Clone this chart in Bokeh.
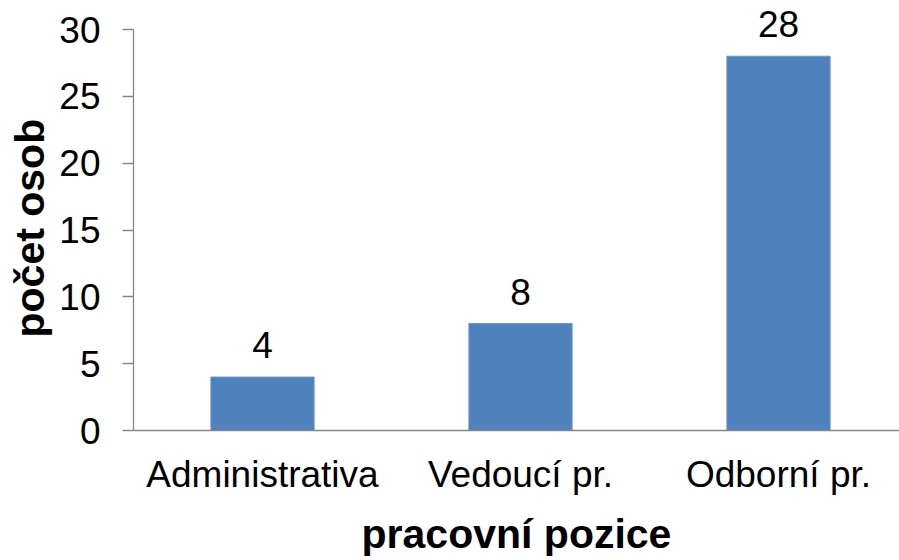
from bokeh.plotting import figure
from bokeh.models import Range1d, FixedTicker, ColumnDataSource, LabelSet, Title
from bokeh.core.properties import value
from bokeh.embed import file_html
from bokeh.resources import INLINE

categories = ["Administrativa", "Vedoucí pr.", "Odborní pr."]
counts = [4, 8, 28]
y_ticks = [0, 5, 10, 15, 20, 25, 30]

xs = [i + 0.5 for i in range(len(categories))]
src = ColumnDataSource(dict(x=xs, y=counts, lbl=[str(c) for c in counts]))

W, H = 899, 560
p = figure(width=W, height=H, output_backend="svg", toolbar_location=None,
           x_range=Range1d(0, 766 / 258), y_range=Range1d(0, 430 / (401 / 30)),
           min_border_left=133, min_border_right=0, min_border_top=0, min_border_bottom=130)
p.outline_line_color = None
p.grid.visible = False
p.background_fill_color = "white"
p.border_fill_color = "white"

FONT = "Liberation Sans"
GRAY = "#868686"

p.vbar(x="x", top="y", bottom=0, width=0.4, source=src,
       fill_color="#4F81BD", line_color="#6A94C8", line_width=1)

labels = LabelSet(x="x", y="y", text="lbl", source=src, text_align="center",
                  text_baseline="alphabetic", y_offset=19,
                  text_font=value(FONT), text_font_size=value("37px"), text_color="black")
p.add_layout(labels)

xa = p.xaxis[0]
xa.ticker = FixedTicker(ticks=xs)
xa.major_label_overrides = {x: c for x, c in zip(xs, categories)}
xa.major_tick_out = 0
xa.major_tick_in = 0
xa.minor_tick_out = 0
xa.minor_tick_in = 0
xa.axis_line_color = GRAY
xa.axis_line_width = 1.3
xa.major_label_text_font = FONT
xa.major_label_text_font_size = "37px"
xa.major_label_text_color = "black"
xa.major_label_standoff = 23
xa.axis_label = "pracovní pozice"
xa.axis_label_text_font = FONT
xa.axis_label_text_font_size = "41px"
xa.axis_label_text_font_style = "bold"
xa.axis_label_text_color = "black"
xa.axis_label_standoff = 13

ya = p.yaxis[0]
ya.ticker = FixedTicker(ticks=y_ticks)
ya.bounds = (0, 30)
ya.major_tick_out = 11
ya.major_tick_in = 0
ya.minor_tick_out = 0
ya.minor_tick_in = 0
ya.major_tick_line_color = GRAY
ya.major_tick_line_width = 1.3
ya.axis_line_color = GRAY
ya.axis_line_width = 1.3
ya.major_label_text_font = FONT
ya.major_label_text_font_size = "37px"
ya.major_label_text_color = "black"
ya.major_label_standoff = 22

ytitle = Title(text="počet osob", align="left", offset=93, standoff=7,
               text_font=FONT, text_font_size="41px", text_font_style="bold",
               text_color="black")
p.add_layout(ytitle, "left")

open("out.html", "w").write(file_html(p, INLINE))
